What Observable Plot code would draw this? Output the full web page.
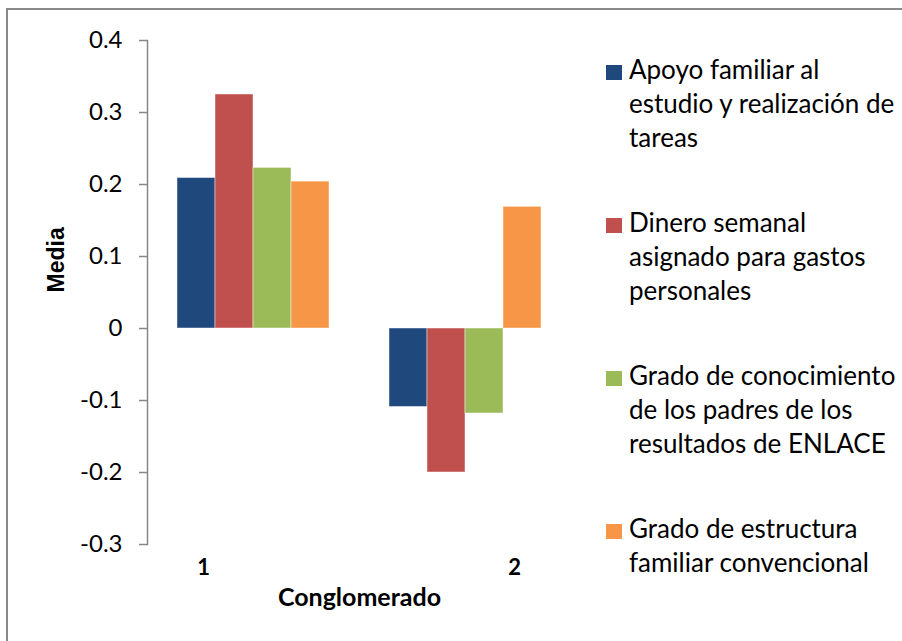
<!DOCTYPE html>
<html>
<head>
<meta charset="utf-8">
<script src="https://cdn.jsdelivr.net/npm/d3@7"></script>
<script src="https://cdn.jsdelivr.net/npm/@observablehq/plot@0.6"></script>
<style>
  html, body { margin: 0; padding: 0; background: #fff; }
  #root { position: relative; width: 902px; height: 641px; overflow: hidden; background: #fff; }
  #border { position: absolute; left: 6px; top: 8px; width: 2000px; height: 2000px; border-left: 2px solid #8a8a8a; border-top: 2px solid #8a8a8a; box-sizing: border-box; }
  #chart { position: absolute; left: 0; top: 0; }
  #legend { position: absolute; left: 606px; top: 52px; font-family: Lato, sans-serif; font-size: 26px; line-height: 34px; color: #000; }
  .item { position: absolute; left: 0; white-space: nowrap; }
  .sw { position: absolute; left: 0; top: 13px; width: 16px; height: 15px; }
  .lbl { position: absolute; left: 23px; top: 0; }
</style>
</head>
<body>
<div id="root">
  <div id="border"></div>
  <div id="chart"></div>
  <div id="legend"></div>
</div>
<script>
const clusters = ["1", "2"];
const series = [
  "Apoyo familiar al estudio y realización de tareas",
  "Dinero semanal asignado para gastos personales",
  "Grado de conocimiento de los padres de los resultados de ENLACE",
  "Grado de estructura familiar convencional"
];
const legendLines = [
  ["Apoyo familiar al", "estudio y realización de", "tareas"],
  ["Dinero semanal", "asignado para gastos", "personales"],
  ["Grado de conocimiento", "de los padres de los", "resultados de ENLACE"],
  ["Grado de estructura", "familiar convencional"]
];
const colors = ["#1F497D", "#C0504D", "#9BBB59", "#F79646"];
const valuesCluster1 = [0.209, 0.325, 0.223, 0.204];
const valuesCluster2 = [-0.109, -0.200, -0.118, 0.169];
const yTicks = [-0.3, -0.2, -0.1, 0, 0.1, 0.2, 0.3, 0.4];

const data = [];
series.forEach((s, i) => data.push({cluster: clusters[0], series: s, value: valuesCluster1[i]}));
series.forEach((s, i) => data.push({cluster: clusters[1], series: s, value: valuesCluster2[i]}));

const fmt = d => d === 0 ? "0" : (d < 0 ? "-" : "") + Math.abs(d).toFixed(1);

const chart = Plot.plot({
  width: 902,
  height: 641,
  marginLeft: 147,
  marginRight: 331,
  marginTop: 40,
  marginBottom: 97,
  style: {background: "transparent", color: "#000", overflow: "visible"},
  fx: {domain: clusters, padding: 0, axis: null, label: null},
  x: {domain: series, paddingInner: 0, paddingOuter: 0.753, axis: null, label: null},
  y: {domain: [-0.3, 0.4], axis: null, label: null},
  color: {domain: series, range: colors},
  marks: [
    Plot.barY(data, {fx: "cluster", x: "series", y: "value", fill: "series", stroke: "#fff", strokeOpacity: 0.45, strokeWidth: 1}),
    Plot.frame({anchor: "left", facet: "super", stroke: "#868686", strokeWidth: 1.5}),
    Plot.axisY({ticks: yTicks, tickSize: 8, text: null, stroke: "#868686", strokeWidth: 1.5, facetAnchor: "left", label: null}),
    Plot.axisY({ticks: yTicks, tickSize: 0, tickPadding: 25, tickFormat: fmt, fill: "#000", fontSize: 24, fontFamily: "Lato, sans-serif", facetAnchor: "left", label: null}),
    Plot.text([clusters[0]], {fx: d => d, text: d => d, frameAnchor: "bottom", lineAnchor: "bottom", dy: 30, dx: -50, fontSize: 22, fontWeight: "bold", fontFamily: "Lato, sans-serif", fill: "#000"}),
    Plot.text([clusters[1]], {fx: d => d, text: d => d, frameAnchor: "bottom", lineAnchor: "bottom", dy: 30, dx: 49, fontSize: 22, fontWeight: "bold", fontFamily: "Lato, sans-serif", fill: "#000"}),
    Plot.text(["Conglomerado"], {facet: "super", text: d => d, frameAnchor: "bottom", lineAnchor: "bottom", dy: 61, fontSize: 25, fontWeight: "bold", fontFamily: "Lato, sans-serif", fill: "#000"}),
    Plot.text(["Media"], {facet: "super", text: d => d, frameAnchor: "left", rotate: -90, dx: -91, dy: 0, fontSize: 23, fontWeight: "bold", fontFamily: "'Liberation Sans', Arial, sans-serif", fill: "#000"})
  ]
});
document.getElementById("chart").appendChild(chart);

const legend = document.getElementById("legend");
series.forEach((s, i) => {
  const item = document.createElement("div");
  item.className = "item";
  item.style.top = (i * 153) + "px";
  const sw = document.createElement("div");
  sw.className = "sw";
  sw.style.background = colors[i];
  const lbl = document.createElement("div");
  lbl.className = "lbl";
  lbl.setAttribute("title", s);
  lbl.innerHTML = legendLines[i].join("<br>");
  item.appendChild(sw);
  item.appendChild(lbl);
  legend.appendChild(item);
});
</script>
</body>
</html>
